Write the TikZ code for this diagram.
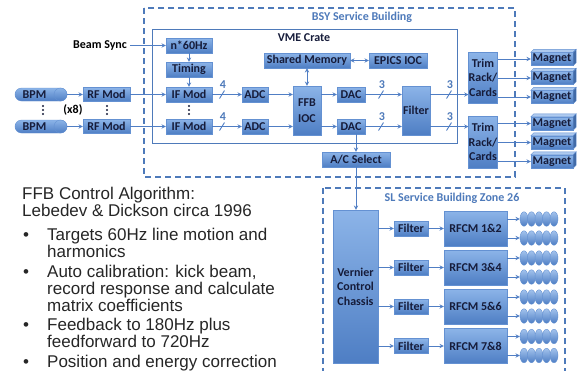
\documentclass[tikz,border=0pt]{standalone}
\usepackage{fontspec}
\setmainfont{Liberation Sans}
\newfontfamily\boxfont{Carlito}
\usetikzlibrary{shapes.misc, shapes.geometric}
\definecolor{boxtop}{RGB}{140,180,232}
\definecolor{boxbot}{RGB}{78,126,196}
\definecolor{boxedge}{RGB}{100,145,210}
\definecolor{boxtext}{RGB}{22,28,58}
\definecolor{framecol}{RGB}{78,122,186}
\definecolor{wirecol}{RGB}{80,126,196}

\begin{document}
\begin{tikzpicture}[x=1pt, y=-1pt, >=stealth,
    blk/.style 2 args={draw=boxedge, top color=boxtop, bottom color=boxbot, text=boxtext,
        font=\boxfont\bfseries\fontsize{12}{14.5}\selectfont, inner sep=0pt, align=center,
        minimum width=#1, minimum height=#2},
    coil/.style={draw=boxedge, top color=boxtop!80!white, bottom color=boxbot,
        ellipse, minimum width=8, minimum height=14.5, inner sep=0pt},
    wire/.style={->, draw=wirecol, line width=0.9pt},
    dwire/.style={<->, draw=wirecol, line width=0.9pt},
    bldg/.style={draw=framecol, line width=1.1pt, dash pattern=on 6pt off 4pt},
    lbl/.style={font=\boxfont\bfseries\fontsize{12}{14.5}\selectfont},
    busnum/.style={font=\boxfont\bfseries\fontsize{12}{14}\selectfont, text=framecol},
    note/.style={font=\fontsize{17}{17}\selectfont, align=left, inner sep=0pt, text=black!85}]

    \useasboundingbox (0,0) rectangle (579,370);
    \clip (0,0) rectangle (579,370);
    \fill[white] (0,0) rectangle (579,370);

    \draw[bldg] (144,8) rectangle (515,177);
    \draw[bldg] (323,188) rectangle (565,380);
    \draw[draw=framecol, line width=1pt] (152,29) rectangle (457,143);
    \node[lbl, text=framecol] (bsy) at (362,17) {BSY Service Building};
    \node[lbl, text=boxtext] (vme) at (304,38) {VME Crate};
    \node[lbl, text=framecol] (sl) at (452,198) {SL Service Building Zone 26};

    \node[blk={52}{13}, rounded rectangle] (bpm1) at (41,94.5) {BPM\hspace{13pt}};
    \node[blk={52}{13}, rounded rectangle] (bpm2) at (41,126.5) {BPM\hspace{13pt}};
    \node[blk={13}{13}, ellipse] (bpme1) at (60.5,94.5) {};
    \node[blk={13}{13}, ellipse] (bpme2) at (60.5,126.5) {};

    \node[blk={47}{14}] (rf1) at (106.5,94.5) {RF Mod};
    \node[blk={47}{14}] (rf2) at (106.5,126.5) {RF Mod};
    \node[lbl] (sync) at (100,45.5) {Beam Sync};
    \node[blk={46}{15}] (n60) at (189,45.5) {n*60Hz};
    \node[blk={46}{15}] (timing) at (189,69.5) {Timing};
    \node[blk={46}{15}] (if1) at (189,94.5) {IF Mod};
    \node[blk={46}{15}] (if2) at (189,126.5) {IF Mod};
    \node[blk={26}{15}] (adc1) at (255,94.5) {ADC};
    \node[blk={26}{15}] (adc2) at (255,126.5) {ADC};
    \node[blk={28}{49}] (ffb) at (307,110.5) {FFB\\[1.5pt]IOC};
    \node[blk={86}{15}] (shm) at (307,60.5) {Shared Memory};
    \node[blk={58}{15}] (epics) at (398,60.5) {EPICS IOC};
    \node[blk={28}{15}] (dac1) at (351,94.5) {DAC};
    \node[blk={28}{15}] (dac2) at (351,126.5) {DAC};
    \node[blk={28}{49}] (filt) at (416,110.5) {Filter};
    \node[blk={28}{51}] (trim1) at (483,77.5) {Trim\\Rack/\\Cards};
    \node[blk={28}{52}] (trim2) at (483,142) {Trim\\Rack/\\Cards};
    \node[blk={68}{15}] (acsel) at (356,159.5) {A/C Select};

    \node[lbl, inner sep=0pt] (xeight) at (73,110) {(x8)};
    \foreach \x in {43,107,189} {
        \foreach \dy in {-4,0,4} {
            \fill[boxtext] (\x,110+\dy) circle (1.1);
        }
    }

    \foreach \i/\y in {1/59, 2/78, 3/97, 4/123.5, 5/142.5, 6/161.5} {
        \node[blk={42}{13}] (mag\i) at (552,\y) {Magnet};
        \fill[boxtop!70!white, draw=boxedge] (mag\i.north west) -- ++(3,-3)
            -- ([shift={(3pt,3pt)}]mag\i.north east) -- (mag\i.north east) -- cycle;
        \fill[boxbot!85!black, draw=boxedge] (mag\i.north east) -- ++(3,-3)
            -- ([shift={(3pt,3pt)}]mag\i.south east) -- (mag\i.south east) -- cycle;
    }

    \node[blk={45}{153}] (vcc) at (355.5,286.5) {Vernier\\Control\\Chassis};
    \foreach \i/\y/\t in {1/228.5/1\&2, 2/267.5/3\&4, 3/306.5/5\&6, 4/346/7\&8} {
        \node[blk={34}{15}] (flt\i) at (411,\y) {Filter};
        \node[blk={63}{35}] (rfcm\i) at (475.5,\y) {RFCM \t};
        \draw[wire] (vcc.east |- flt\i) -- (flt\i);
        \draw[wire] (flt\i) -- (rfcm\i);
        \foreach \r/\dy in {a/-9.5, b/9.5} {
            \foreach \k in {0,...,4} {
                \node[coil] (c\i\r\k) at (524+7.5*\k,\y+\dy) {};
            }
            \draw[wire] (rfcm\i.east |- c\i\r0) -- (c\i\r0);
        }
    }

    \draw[wire] (bpme1) -- (rf1);
    \draw[wire] (bpme2) -- (rf2);
    \draw[wire] (rf1) -- (if1);
    \draw[wire] (rf2) -- (if2);
    \draw[wire] (sync) -- (n60);
    \draw[wire] (n60) -- (timing);
    \draw[wire] (timing) -- (if1);
    \draw[wire] (if1) -- (adc1);
    \draw[wire] (if2) -- (adc2);
    \draw[wire] (adc1) -- (ffb.west |- adc1);
    \draw[wire] (adc2) -- (ffb.west |- adc2);
    \draw[dwire] (ffb) -- (shm);
    \draw[dwire] (shm) -- (epics);
    \draw[wire] (ffb.east |- dac1) -- (dac1);
    \draw[wire] (ffb.east |- dac2) -- (dac2);
    \draw[wire] (dac1) -- (filt.west |- dac1);
    \draw[wire] (dac2) -- (filt.west |- dac2);
    \draw[wire] (filt.east |- dac1) -- (trim1.west |- dac1);
    \draw[wire] (filt.east |- dac2) -- (trim2.west |- dac2);
    \draw[wire] (dac2.south -| acsel) -- (acsel);
    \draw[wire] (acsel) -- (acsel |- vcc.north);
    \foreach \i in {1,2,3} {
        \draw[wire] (trim1.east |- mag\i) -- (mag\i);
    }
    \foreach \i in {4,5,6} {
        \draw[wire] (trim2.east |- mag\i) -- (mag\i);
    }

    \foreach \x/\y/\n in {222/94.5/4, 222/126.5/4, 381/94.5/3, 381/126.5/3, 449/94.5/3, 449/126.5/3} {
        \draw[wirecol, line width=0.9pt] (\x-2.5,\y+4) -- (\x+2.5,\y-4);
        \node[busnum] at (\x+1,\y-10) {\n};
    }

    \node[note, anchor=north west] (head) at (22,187) {FFB Control Algorithm:\\Lebedev \& Dickson circa 1996};
    \foreach \yy/\txt [count=\i] in {228/{Targets 60Hz line motion and\\harmonics},
        265/{Auto calibration: kick beam,\\record response and calculate\\matrix coefficients},
        318/{Feedback to 180Hz plus\\feedforward to 720Hz},
        355/{Position and energy correction}} {
        \node[note, anchor=north west] (item\i) at (47,\yy) {\txt};
        \node[note, anchor=base west] (dot\i) at (23,\yy+12) {•};
    }
\end{tikzpicture}
\end{document}
